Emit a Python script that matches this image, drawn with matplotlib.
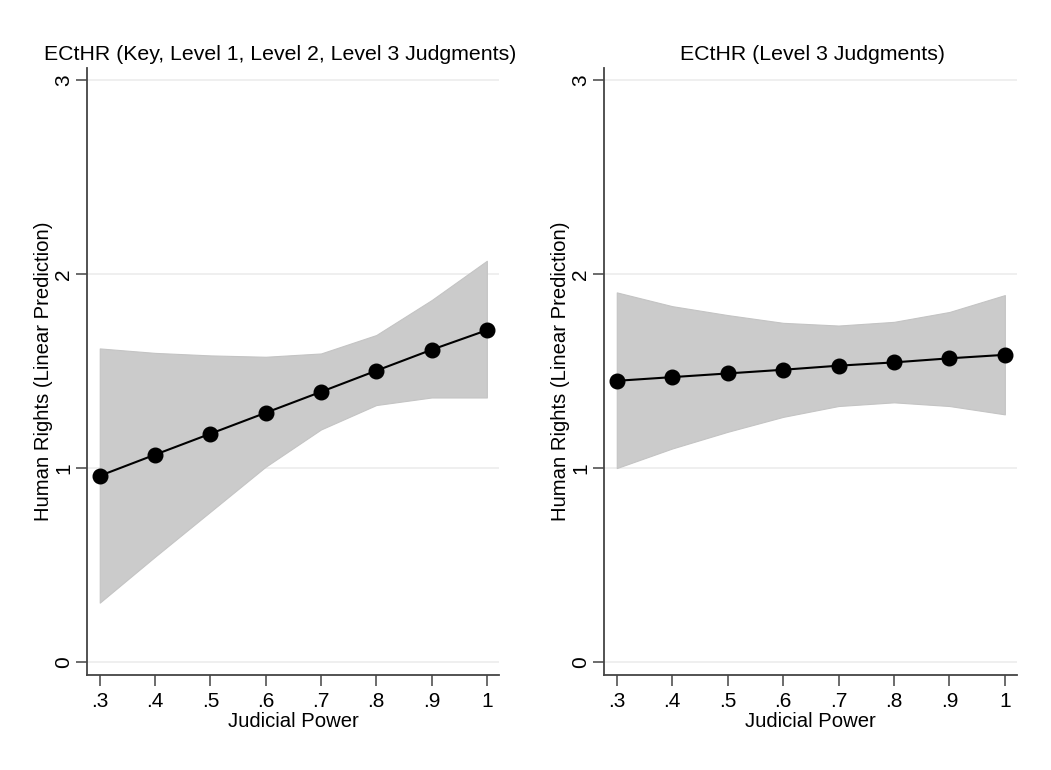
"""Предсказанные значения Human Rights в зависимости от Judicial Power (две модели ECtHR)."""

import matplotlib

matplotlib.use("Agg")

import matplotlib.pyplot as plt  # noqa: E402

plt.rcParams["font.family"] = ["Liberation Sans", "DejaVu Sans"]

judicial_power = [0.3, 0.4, 0.5, 0.6, 0.7, 0.8, 0.9, 1.0]
x_tick_labels = [".3", ".4", ".5", ".6", ".7", ".8", ".9", "1"]

# Левая панель: все уровни решений
all_pred = [0.960, 1.069, 1.177, 1.285, 1.393, 1.502, 1.610, 1.711]
all_upper = [1.617, 1.594, 1.581, 1.574, 1.591, 1.686, 1.866, 2.069]
all_lower = [0.306, 0.543, 0.775, 1.007, 1.199, 1.325, 1.364, 1.364]

# Правая панель: только Level 3
lvl3_pred = [1.450, 1.469, 1.488, 1.507, 1.528, 1.545, 1.566, 1.584]
lvl3_upper = [1.906, 1.835, 1.789, 1.749, 1.735, 1.754, 1.805, 1.892]
lvl3_lower = [1.000, 1.101, 1.187, 1.264, 1.320, 1.339, 1.320, 1.277]

titles = [
    "ECtHR (Key, Level 1, Level 2, Level 3 Judgments)",
    "ECtHR (Level 3 Judgments)",
]
y_ticks = [0, 1, 2, 3]

fig = plt.figure(figsize=(10.51, 7.70), dpi=100)
ax_left = fig.add_axes([0.0828, 0.1234, 0.392, 0.788])
ax_right = fig.add_axes([0.5747, 0.1234, 0.393, 0.788])

panels = [
    (ax_left, all_pred, all_upper, all_lower, titles[0], 0.468),
    (ax_right, lvl3_pred, lvl3_upper, lvl3_lower, titles[1], 0.505),
]

for ax, pred, upper, lower, title, title_x in panels:
    ax.fill_between(judicial_power, lower, upper, color="#cbcbcb", linewidth=0.8,
                    edgecolor="#c4c4c4", zorder=2)
    ax.plot(judicial_power, pred, color="black", linewidth=1.5, marker="o",
            markersize=10.5, zorder=3)

    ax.set_xlim(0.277, 1.022)
    ax.set_ylim(-0.067, 3.062)
    ax.set_xticks(judicial_power, labels=x_tick_labels)
    ax.set_yticks(y_ticks, labels=[str(v) for v in y_ticks])

    for v in y_ticks:
        ax.axhline(v, color="#ececec", linewidth=1.2, zorder=1)

    for side in ("top", "right"):
        ax.spines[side].set_visible(False)
    for side in ("left", "bottom"):
        ax.spines[side].set_color("#444444")
        ax.spines[side].set_linewidth(1.3)

    ax.tick_params(axis="both", colors="#444444", labelcolor="black", labelsize=15,
                   length=8, width=1.1)
    ax.tick_params(axis="y", labelrotation=90, pad=2)
    for lbl in ax.get_yticklabels():
        lbl.set_va("center")
    ax.tick_params(axis="x", pad=4)

    ax.set_xlabel("Judicial Power", fontsize=14.6, labelpad=1)
    ax.set_ylabel("Human Rights (Linear Prediction)", fontsize=14.6, labelpad=1)
    ax.set_title(title, fontsize=15.3, x=title_x, pad=6)

fig.savefig("out.png", dpi=100, facecolor="white")
plt.close(fig)
